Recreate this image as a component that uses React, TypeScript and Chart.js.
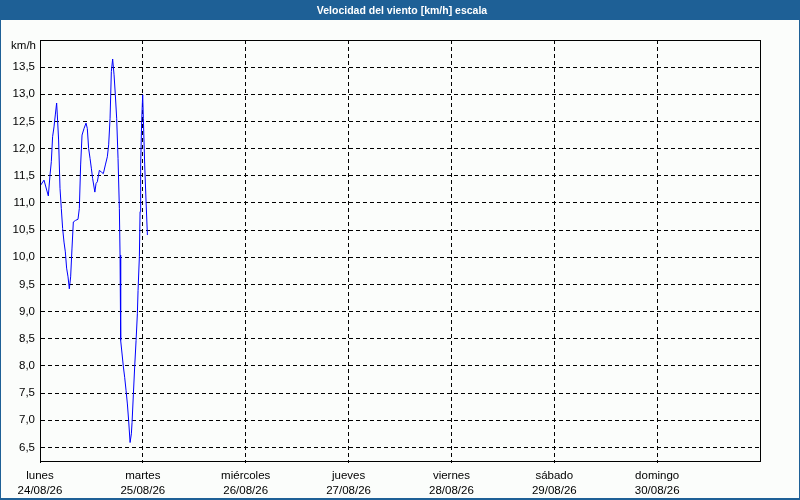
import { useEffect, useRef } from "react"
import { Chart, registerables } from "chart.js"

Chart.register(...registerables)

const chartTitle = "Velocidad del viento [km/h] escala"
const unitLabel = "km/h"

// hours since Monday 00:00
const hours = [
  0, 0.93, 1.94, 2.33, 2.64, 2.94, 3.27, 3.57, 3.88, 4.04, 4.34, 4.67, 4.97, 5.28, 5.6, 5.91,
  6.21, 6.54, 6.84, 7.15, 7.47, 7.78, 8.31, 8.87, 9.18, 9.48, 9.81, 10.27, 10.74, 11.04, 11.35,
  11.68, 11.98, 12.28, 12.8, 13.08, 13.38, 13.85, 14.31, 14.78, 15.25, 15.71, 16.02, 16.35,
  16.65, 16.95, 17.28, 17.58, 17.89, 18.21, 18.52, 18.68, 18.82, 19.15, 19.46, 19.76, 20.08,
  20.39, 20.69, 21.02, 21.32, 21.48, 21.79, 22.09, 22.42, 22.72, 22.88, 23.19, 23.35, 23.49,
  23.72, 23.96, 24.12, 24.43, 24.75, 25.06,
]
const speeds = [
  11.31, 11.42, 11.13, 11.51, 11.76, 12.22, 12.4, 12.62, 12.84, 12.62, 12.16, 11.27, 10.9, 10.53,
  10.28, 10.1, 9.8, 9.64, 9.42, 9.64, 10.17, 10.65, 10.68, 10.7, 10.9, 11.7, 12.25, 12.37, 12.47,
  12.37, 12.0, 11.82, 11.64, 11.45, 11.2, 11.36, 11.39, 11.6, 11.57, 11.54, 11.7, 11.85, 12.07,
  12.56, 13.42, 13.65, 13.36, 12.99, 12.56, 11.82, 10.9, 10.04, 8.47, 8.22, 7.98, 7.79, 7.55,
  7.3, 6.99, 6.59, 6.75, 6.96, 7.48, 7.98, 8.47, 8.96, 9.39, 10.02, 10.84, 11.7, 12.5, 12.99,
  12.55, 11.7, 11.02, 10.41,
]

const dayNames = ["lunes", "martes", "miércoles", "jueves", "viernes", "sábado", "domingo"]
const dayDates = ["24/08/26", "25/08/26", "26/08/26", "27/08/26", "28/08/26", "29/08/26", "30/08/26"]
const yTicks = [6.5, 7, 7.5, 8, 8.5, 9, 9.5, 10, 10.5, 11, 11.5, 12, 12.5, 13, 13.5]

const FONT = "'Liberation Sans', Arial, sans-serif"

const framePlugin = {
  id: "frame",
  beforeDraw(chart: Chart) {
    const { ctx, width } = chart
    ctx.save()
    ctx.fillStyle = "#fbfdfb"
    ctx.fillRect(0, 0, width, chart.height)
    ctx.fillStyle = "#1e6096"
    ctx.fillRect(0, 0, width, 20)
    ctx.fillStyle = "#ffffff"
    ctx.font = `bold 10.5px ${FONT}`
    ctx.textAlign = "center"
    ctx.textBaseline = "middle"
    ctx.fillText(chartTitle, width / 2 + 2, 11)
    ctx.restore()
  },
  afterDraw(chart: Chart) {
    const { ctx, width, height, chartArea } = chart
    ctx.save()
    // plot frame
    ctx.strokeStyle = "#000"
    ctx.lineWidth = 1
    ctx.strokeRect(
      Math.round(chartArea.left) + 0.5,
      Math.round(chartArea.top) + 0.5,
      Math.round(chartArea.right - chartArea.left),
      Math.round(chartArea.bottom - chartArea.top)
    )
    // unit label
    ctx.fillStyle = "#000"
    ctx.font = `11.5px ${FONT}`
    ctx.textAlign = "right"
    ctx.textBaseline = "middle"
    ctx.fillText(unitLabel, 36, 46)
    // window border
    ctx.fillStyle = "#1e6096"
    ctx.fillRect(0, 0, 1, height)
    ctx.fillRect(width - 1, 0, 1, height)
    ctx.fillRect(0, height - 2, width, 2)
    ctx.restore()
  },
}

export default function App() {
  const canvasRef = useRef<HTMLCanvasElement>(null)
  const chartRef = useRef<Chart | null>(null)

  useEffect(() => {
    if (!canvasRef.current) return
    if (chartRef.current) chartRef.current.destroy()

    chartRef.current = new Chart(canvasRef.current, {
      type: "line",
      data: {
        datasets: [
          {
            data: hours.map((h, i) => ({ x: h, y: speeds[i] })),
            borderColor: "#0000ff",
            borderWidth: 1,
            pointRadius: 0,
            tension: 0,
            fill: false,
          },
        ],
      },
      options: {
        responsive: false,
        animation: false,
        devicePixelRatio: 1,
        layout: { padding: { top: 40, right: 40, left: 0, bottom: 0 } },
        plugins: {
          legend: { display: false },
          tooltip: { enabled: false },
          title: { display: false },
        },
        scales: {
          x: {
            type: "linear",
            min: 0,
            max: 168,
            afterFit: (scale: any) => {
              scale.height = 39
            },
            afterBuildTicks: (scale: any) => {
              scale.ticks = dayNames.map((_, i) => ({ value: i * 24 }))
            },
            grid: {
              color: "#000",
              lineWidth: 1,
              drawTicks: true,
              tickLength: 2,
              tickColor: "#000",
            },
            border: { display: true, color: "#000", dash: [4, 3] },
            ticks: {
              autoSkip: false,
              maxRotation: 0,
              padding: 5,
              color: "#000",
              font: { family: FONT, size: 11.5, lineHeight: 1.35 },
              callback: (v: any) => {
                const i = Math.round(Number(v) / 24)
                return [dayNames[i], dayDates[i]]
              },
            },
          },
          y: {
            type: "linear",
            min: 6.25,
            max: 14,
            afterFit: (scale: any) => {
              scale.width = 40
            },
            afterBuildTicks: (scale: any) => {
              scale.ticks = yTicks.map((v) => ({ value: v }))
            },
            grid: {
              color: "#000",
              lineWidth: 1,
              drawTicks: false,
            },
            border: { display: true, color: "#000", dash: [4, 3] },
            ticks: {
              padding: 5,
              color: "#000",
              font: { family: FONT, size: 11.5 },
              callback: (v: any) => Number(v).toFixed(1).replace(".", ","),
            },
          },
        },
      },
      plugins: [framePlugin],
    })

    return () => {
      if (chartRef.current) {
        chartRef.current.destroy()
        chartRef.current = null
      }
    }
  }, [])

  return (
    <div style={{ position: "fixed", left: 0, top: 0, width: 800, height: 500 }}>
      <canvas ref={canvasRef} width={800} height={500}></canvas>
    </div>
  )
}
